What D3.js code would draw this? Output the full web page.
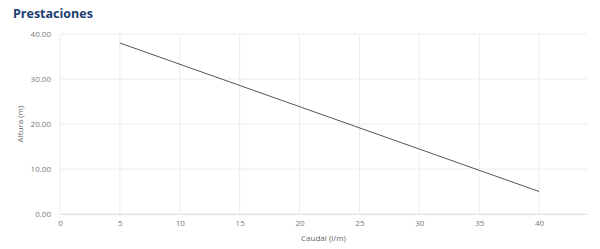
<!DOCTYPE html>
<html>
<head>
<meta charset="utf-8">
<script src="https://cdn.jsdelivr.net/npm/d3@7"></script>
<style>
  body { margin: 0; background: #fff; font-family: "Open Sans", sans-serif; }
  .tick text { fill: #777; font-size: 8px; font-family: "Open Sans", sans-serif; }
  .labels { fill: #666; font-size: 8px; }
</style>
</head>
<body>
<div id="chart"></div>
<script>
// curve points: caudal (l/m) vs altura (m)
const caudal = [5, 40];
const altura = [38, 5];
const xTicks = [0, 5, 10, 15, 20, 25, 30, 35, 40];
const yTicks = [0, 10, 20, 30, 40];

function init() {
    const margin = {top: 34, right: 13, bottom: 35, left: 60};
    const width = 600 - margin.left - margin.right;
    const height = 249 - margin.top - margin.bottom;

    const root = d3.select('#chart')
        .append('svg')
        .attr('width', 600)
        .attr('height', 249);

    root.append('text')
        .attr('x', 13)
        .attr('y', 18)
        .style('font-size', '12.5px')
        .style('font-weight', 'bold')
        .style('fill', '#1d3e72')
        .text('Prestaciones');

    const svg = root.append('g')
        .attr('transform', `translate(${margin.left},${margin.top})`);

    const xScale = d3.scaleLinear().domain([0, 44]).range([0, width]);
    const yScale = d3.scaleLinear().domain([0, 40]).range([height, 0]);

    // grid
    svg.append('g')
        .selectAll('line')
        .data(xTicks)
        .join('line')
        .attr('x1', d => xScale(d)).attr('x2', d => xScale(d))
        .attr('y1', 0).attr('y2', height)
        .attr('stroke', '#ececec');
    svg.append('g')
        .selectAll('line')
        .data(yTicks)
        .join('line')
        .attr('x1', 0).attr('x2', width)
        .attr('y1', d => yScale(d)).attr('y2', d => yScale(d))
        .attr('stroke', '#ececec');

    const xAxis = d3.axisBottom(xScale).tickValues(xTicks).tickSize(0).tickPadding(6);
    svg.append('g')
        .attr('transform', `translate(0, ${height})`)
        .call(xAxis)
        .call(g => g.select('.domain').attr('stroke', '#e0e0e0'));

    const yAxis = d3.axisLeft(yScale).tickValues(yTicks).tickFormat(d3.format('.2f')).tickSize(0).tickPadding(9);
    svg.append('g')
        .call(yAxis)
        .call(g => g.select('.domain').remove());

    const pts = caudal.map((c, i) => [c, altura[i]]);
    svg.append('path')
        .datum(pts)
        .attr('fill', 'none')
        .attr('stroke', '#555')
        .attr('stroke-width', 1)
        .attr('d', d3.line().x(d => xScale(d[0])).y(d => yScale(d[1])));

    svg.append('text')
        .attr('x', xScale(22))
        .attr('y', height + 27)
        .attr('text-anchor', 'middle')
        .attr('class', 'labels')
        .text('Caudal (l/m)');

    svg.append('text')
        .attr('transform', 'rotate(-90)')
        .attr('x', -height / 2)
        .attr('y', -margin.left + 23)
        .attr('text-anchor', 'middle')
        .attr('class', 'labels')
        .text('Altura (m)');
}

window.addEventListener('load', init);
</script>
</body>
</html>
